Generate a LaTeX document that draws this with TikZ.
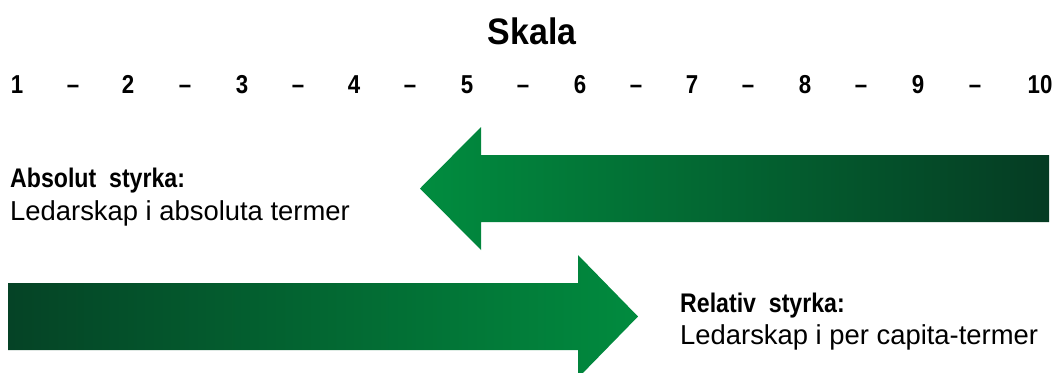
\documentclass[tikz,border=0pt]{standalone}
\usepackage{fontspec}
\setmainfont{Liberation Sans}
\newfontfamily\condbold{Liberation Sans Bold}[FakeStretch=0.86,Ligatures=TeX]
\newfontfamily\titlebold{Liberation Sans Bold}[FakeStretch=0.92]
\usepackage{tikz}
\usetikzlibrary{positioning}
\definecolor{ledgreen}{HTML}{009B44}
\definecolor{leddark}{HTML}{06301F}
\pgfdeclarehorizontalshading{fadeleft}{100bp}{color(0bp)=(ledgreen); color(16bp)=(ledgreen); color(82bp)=(leddark); color(100bp)=(leddark)}
\pgfdeclarehorizontalshading{faderight}{100bp}{color(0bp)=(leddark); color(12bp)=(leddark); color(86bp)=(ledgreen); color(100bp)=(ledgreen)}

\begin{document}
\begin{tikzpicture}[x=1bp, y=-1bp,
    scalenum/.style={font=\condbold\fontsize{26}{28}\selectfont, anchor=base, inner sep=0pt},
    headtxt/.style={font=\condbold\fontsize{27}{29}\selectfont, anchor=base west, inner sep=0pt},
    bodytxt/.style={font=\fontsize{27.5}{30}\selectfont, anchor=base west, inner sep=0pt}]
\useasboundingbox (0,0) rectangle (1059,372);
% title and scale
\node[font=\titlebold\fontsize{37}{40}\selectfont, anchor=base, inner sep=0pt] (skala) at (532,44) {Skala};
\foreach \i/\x in {1/17,2/128,3/242,4/354,5/467,6/580,7/692,8/805,9/918,10/1040} {
  \node[scalenum] (n\i) at (\x,93) {\i};
}
\foreach \i/\x in {1/73,2/185,3/298,4/410,5/523,6/636,7/748,8/861,9/975} {
  \node[scalenum] (d\i) at (\x,93) {–};
}
% arrows
\shade[shading=fadeleft] (1049,155) -- (481,155) -- (481,127) -- (420,188.5)
  -- (481,250) -- (481,222) -- (1049,222) -- cycle;
\shade[shading=faderight] (8,283) -- (578,283) -- (578,255) -- (638,316.5)
  -- (578,378) -- (578,350) -- (8,350) -- cycle;
% labels
\node[headtxt] (abshead) at (10,187) {Absolut\ \ styrka:};
\node[bodytxt] (absbody) at (10,220) {Ledarskap i absoluta termer};
\node[headtxt] (relhead) at (680,312) {Relativ\ \ styrka:};
\node[bodytxt] (relbody) at (680,344) {Ledarskap i per capita-termer};
\end{tikzpicture}
\end{document}
